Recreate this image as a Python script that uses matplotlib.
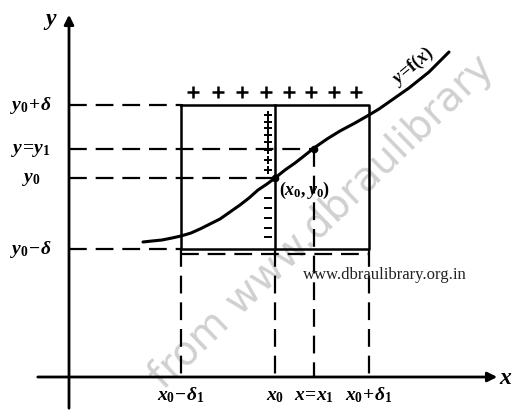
import matplotlib.pyplot as plt

plt.rcParams["mathtext.fontset"] = "custom"
plt.rcParams["mathtext.it"] = "Liberation Serif:italic:bold"
plt.rcParams["mathtext.rm"] = "Liberation Serif:bold"
plt.rcParams["mathtext.bf"] = "Liberation Serif:bold"
plt.rcParams["mathtext.fallback"] = "stix"

# positions in picture units (pixels of the original figure)
x_axis_y = 377
y_axis_x = 69
x_lo, x0, x1, x_hi = 181, 275, 314, 369          # x0-d1, x0, x1, x0+d1
y_hi, y1, y0, y_lo = 105, 149, 178, 249          # y0+d, y1, y0, y0-d

# curve y = f(x)
curve_x = [143, 152, 162, 172, 181, 191, 200, 210, 220, 230, 240, 249, 258, 267, 275,
           285, 295, 304, 314, 327, 340, 355, 369, 379, 389, 399, 409, 419, 429, 439, 449]
curve_y = [242, 241, 240, 238, 236, 233, 229, 224, 219, 212, 205, 198, 190, 184, 178,
           170, 163, 156, 148, 139, 131, 123, 115, 109, 102, 95, 88, 80, 72, 62, 52]

# plus signs above the box and along x0
plus_top_x = [193, 218, 242, 266, 289, 311, 334, 356]
plus_side_y = [115, 122, 128, 135, 142, 150, 160, 170]
dash_side_y = [198, 208, 218, 228, 237]

x_labels = [r"$x_0\!-\!\delta_1$", r"$x_0$", r"$x\!=\!x_1$", r"$x_0\!+\!\delta_1$"]
y_labels = [r"$y_0\!+\!\delta$", r"$y\!=\!y_1$", r"$y_0$", r"$y_0\!-\!\delta$"]

fig = plt.figure(figsize=(5.12, 4.11), dpi=100)
ax = fig.add_axes([0, 0, 1, 1])
ax.set_xlim(0, 512)
ax.set_ylim(411, 0)
ax.axis("off")

ink = "black"
dash = (0, (8, 4))

# watermark
ax.text(322, 222, "from www.dbraulibrary", rotation=44, fontsize=29,
        color="#d0d0d0", ha="center", va="center", zorder=0,
        family="DejaVu Sans")

# axes with arrows
ax.annotate("", xy=(y_axis_x, 12), xytext=(y_axis_x, 411),
            arrowprops=dict(arrowstyle="-|>", lw=2, color=ink, mutation_scale=14))
ax.annotate("", xy=(500, x_axis_y), xytext=(35, x_axis_y),
            arrowprops=dict(arrowstyle="-|>", lw=2, color=ink, mutation_scale=14))
ax.text(50, 20, r"$y$", fontsize=17, ha="center", va="center")
ax.text(506, 377, r"$x$", fontsize=17, ha="center", va="center")

# box
ax.plot([x_lo, x_hi, x_hi, x_lo, x_lo], [y_hi, y_hi, y_lo, y_lo, y_hi], color=ink, lw=1.8)
ax.plot([x0, x0], [y_hi, y_lo], color=ink, lw=1.8)

# horizontal dashed guides
ax.plot([y_axis_x, x_lo], [y_hi, y_hi], color=ink, lw=1.6, linestyle=dash)
ax.plot([y_axis_x, x1], [y1, y1], color=ink, lw=1.6, linestyle=dash)
ax.plot([y_axis_x, x0], [y0, y0], color=ink, lw=1.6, linestyle=dash)
ax.plot([y_axis_x, x_lo], [y_lo, y_lo], color=ink, lw=1.6, linestyle=dash)
ax.plot([x_lo, x_hi], [y_lo + 5, y_lo + 5], color=ink, lw=1.6, linestyle=dash)

# vertical dashed guides
for xv in (x_lo, x0, x_hi):
    ax.plot([xv, xv], [y_lo, x_axis_y], color=ink, lw=1.6, linestyle=dash)
ax.plot([x1, x1], [y1, x_axis_y], color=ink, lw=1.6, linestyle=dash)

# curve and points
ax.plot(curve_x, curve_y, color=ink, lw=2.2, solid_capstyle="round")
ax.plot([x0, x1], [y0, y1], "o", color=ink, ms=4.5)

# plus signs
ax.plot(plus_top_x, [92] * len(plus_top_x), "+", color=ink, ms=8, mew=1.8)
ax.plot([268] * len(plus_side_y), plus_side_y, "+", color=ink, ms=6, mew=1.4)
ax.plot([268] * len(dash_side_y), dash_side_y, "_", color=ink, ms=6, mew=1.4)

# labels
for lab, yv in zip(y_labels, (y_hi, y1, y0, y_lo)):
    ax.text(31, yv, lab, fontsize=14, ha="center", va="center")
for lab, xv in zip(x_labels, (x_lo, x0, x1, x_hi)):
    ax.text(xv, 395, lab, fontsize=14, ha="center", va="center")
ax.text(279, 190, r"$(x_0,y_0)$", fontsize=13, ha="left", va="center")
ax.text(413, 66, r"$y\!=\!\mathbf{f}(x)$", fontsize=13, ha="center", va="center", rotation=40)

ax.text(385, 275, "www.dbraulibrary.org.in", fontsize=12, ha="center", va="center",
        family="Liberation Serif", color="#222222")

fig.savefig("out.png", dpi=100)
